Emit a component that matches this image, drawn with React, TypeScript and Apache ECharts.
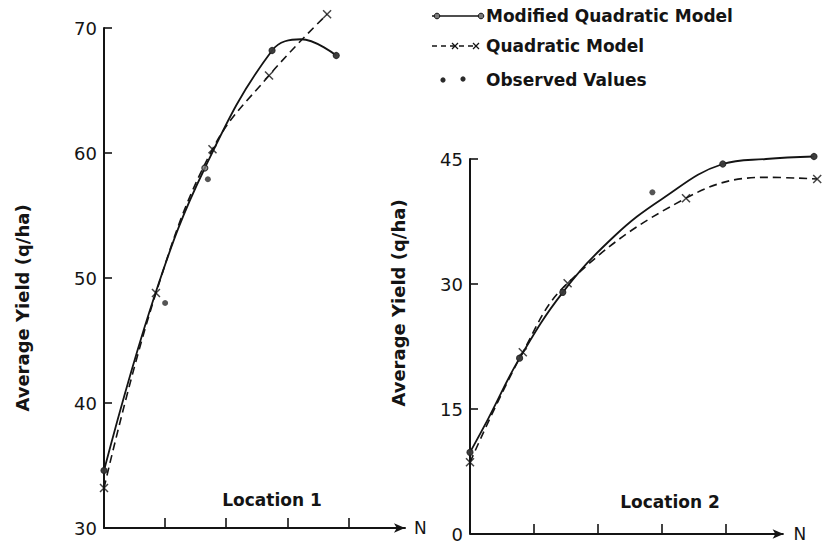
import React, { useEffect, useRef } from "react";
import * as echarts from "echarts";

// ---- data (N on x, average yield q/ha on y) ----
const xTickValues = [40, 80, 120, 160];

const leftYMin = 30;
const leftYMax = 70;
const leftYStep = 10;
const rightYMin = 0;
const rightYMax = 45;
const rightYStep = 15;

// Location 1
const leftModCurve = [[0, 34.6], [34, 48.9], [66, 58.8], [110, 68.2], [129, 69.1], [152, 67.8]];
const leftModMarks = [[0, 34.6], [66, 58.8], [110, 68.2], [152, 67.8]];
const leftQuadLine = [[0, 33.2], [34, 48.8], [71, 60.3], [108, 66.2], [146, 71.1]];
const leftQuadMarks = [[0, 33.2], [34, 48.8], [71, 60.3], [108, 66.2], [146, 71.1]];
const leftObs = [[0, 34.6], [40, 48.0], [68, 57.9], [110, 68.2], [152, 67.8]];

// Location 2
const rightModCurve = [[0, 9.8], [11, 13.7], [31, 21.1], [58, 29.0], [90, 35.7], [120, 40.2], [158, 44.4], [185, 45.0], [215, 45.3]];
const rightModMarks = [[0, 9.8], [31, 21.1], [58, 29.0], [158, 44.4], [215, 45.3]];
const rightQuadLine = [[0, 8.6], [33, 21.8], [61, 30.1], [135, 40.3], [185, 42.8], [217, 42.6]];
const rightQuadMarks = [[0, 8.6], [33, 21.8], [61, 30.1], [135, 40.3], [217, 42.6]];
const rightObs = [[0, 9.8], [31, 21.1], [58, 29.0], [114, 41.0], [158, 44.4], [215, 45.3]];
const rightAxisLine = [[0, 0], [196, 0]];

const legendNames = ["Modified Quadratic Model", "Quadratic Model", "Observed Values"];
const yTitle = "Average Yield (q/ha)";
const locationLabels = ["Location 1", "Location 2"];

const INK = "#141414";
const FONT = "DejaVu Sans";
const X_SYMBOL = "path://M0,0L10,10M10,0L0,10";

function curveSeries(data: number[][], idx: number, dashed: boolean) {
  return {
    type: "line",
    xAxisIndex: idx,
    yAxisIndex: idx,
    data,
    smooth: 0.4,
    showSymbol: false,
    symbol: "none",
    clip: false,
    silent: true,
    lineStyle: { color: INK, width: dashed ? 1.6 : 1.8, type: dashed ? [8, 5] : "solid" },
    z: 3,
  };
}
function modMarkSeries(data: number[][], idx: number) {
  return {
    type: "scatter",
    xAxisIndex: idx,
    yAxisIndex: idx,
    data,
    symbol: "circle",
    symbolSize: 6,
    clip: false,
    itemStyle: { color: "#7a7a7a", borderColor: INK, borderWidth: 1.2 },
    z: 4,
  };
}
function quadMarkSeries(data: number[][], idx: number) {
  return {
    type: "scatter",
    xAxisIndex: idx,
    yAxisIndex: idx,
    data,
    symbol: X_SYMBOL,
    symbolSize: 8,
    clip: false,
    itemStyle: { color: "rgba(0,0,0,0)", borderColor: INK, borderWidth: 1.5 },
    z: 5,
  };
}
function obsSeries(data: number[][], idx: number) {
  return {
    type: "scatter",
    xAxisIndex: idx,
    yAxisIndex: idx,
    data,
    symbol: "circle",
    symbolSize: 6,
    clip: false,
    itemStyle: { color: "#2a2a2a" },
    z: 6,
  };
}

function yAxis(idx: number, min: number, max: number, step: number) {
  return {
    type: "value",
    gridIndex: idx,
    min,
    max,
    interval: step,
    axisLine: { show: true, lineStyle: { color: INK, width: 2 } },
    axisTick: { show: true, inside: true, length: 8, lineStyle: { color: INK, width: 1.6 } },
    axisLabel: { show: true, margin: 7, color: INK, fontSize: 18, fontFamily: FONT },
    splitLine: { show: false },
  };
}

export default function App() {
  const ref = useRef<HTMLDivElement>(null);
  useEffect(() => {
    if (!ref.current) return;
    const chart = echarts.init(ref.current, null, { renderer: "svg" });
    const textBase = { fill: INK, fontFamily: FONT };
    const option: any = {
      animation: false,
      backgroundColor: "#ffffff",
      grid: [
        { left: 104, top: 28, width: 301, height: 500 },
        { left: 470, top: 159, width: 352, height: 375 },
      ],
      xAxis: [
        {
          type: "value",
          gridIndex: 0,
          min: 0,
          max: 197,
          axisLine: { show: true, symbol: ["none", "arrow"], symbolSize: [7, 11], lineStyle: { color: INK, width: 2 } },
          axisTick: { show: true, inside: true, length: 10, customValues: xTickValues, lineStyle: { color: INK, width: 1.6 } },
          axisLabel: { show: false },
          splitLine: { show: false },
          name: "N",
          nameLocation: "end",
          nameGap: 9,
          nameTextStyle: { color: INK, fontSize: 17, fontFamily: FONT, verticalAlign: "middle" },
        },
        {
          type: "value",
          gridIndex: 1,
          min: 0,
          max: 220,
          axisLine: { show: false },
          axisTick: { show: true, inside: true, length: 10, customValues: xTickValues, lineStyle: { color: INK, width: 1.6 } },
          axisLabel: { show: false },
          splitLine: { show: false },
        },
      ],
      yAxis: [yAxis(0, leftYMin, leftYMax, leftYStep), yAxis(1, rightYMin, rightYMax, rightYStep)],
      series: [
        // right x-axis line with arrow
        {
          type: "line",
          xAxisIndex: 1,
          yAxisIndex: 1,
          data: rightAxisLine.map((p, i) =>
            i === rightAxisLine.length - 1
              ? { value: p, symbol: "arrow", symbolRotate: -90, symbolSize: [7, 11] }
              : { value: p, symbol: "none" }
          ),
          showSymbol: true,
          clip: false,
          silent: true,
          lineStyle: { color: INK, width: 2 },
          itemStyle: { color: INK },
          endLabel: { show: true, formatter: "N", distance: 10, color: INK, fontSize: 17, fontFamily: FONT },
          z: 2,
        },
        curveSeries(leftModCurve, 0, false),
        curveSeries(leftQuadLine, 0, true),
        modMarkSeries(leftModMarks, 0),
        quadMarkSeries(leftQuadMarks, 0),
        obsSeries(leftObs, 0),
        curveSeries(rightModCurve, 1, false),
        curveSeries(rightQuadLine, 1, true),
        modMarkSeries(rightModMarks, 1),
        quadMarkSeries(rightQuadMarks, 1),
        obsSeries(rightObs, 1),
      ],
      graphic: [
        // legend row 1
        { type: "line", shape: { x1: 432, y1: 16, x2: 481, y2: 16 }, style: { stroke: INK, lineWidth: 1.5 } },
        { type: "circle", shape: { cx: 437, cy: 16, r: 2.8 }, style: { fill: "#7a7a7a", stroke: INK, lineWidth: 1 } },
        { type: "circle", shape: { cx: 481, cy: 16, r: 2.8 }, style: { fill: "#7a7a7a", stroke: INK, lineWidth: 1 } },
        { type: "text", x: 486, y: 16, style: { ...textBase, text: legendNames[0], fontSize: 17, fontWeight: "bold", verticalAlign: "middle" } },
        // legend row 2
        { type: "line", shape: { x1: 432, y1: 46, x2: 476, y2: 46 }, style: { stroke: INK, lineWidth: 1.3, lineDash: [5, 4] } },
        { type: "line", shape: { x1: 452, y1: 43, x2: 458, y2: 49 }, style: { stroke: INK, lineWidth: 1.3 } },
        { type: "line", shape: { x1: 458, y1: 43, x2: 452, y2: 49 }, style: { stroke: INK, lineWidth: 1.3 } },
        { type: "line", shape: { x1: 473, y1: 43, x2: 479, y2: 49 }, style: { stroke: INK, lineWidth: 1.3 } },
        { type: "line", shape: { x1: 479, y1: 43, x2: 473, y2: 49 }, style: { stroke: INK, lineWidth: 1.3 } },
        { type: "text", x: 486, y: 46, style: { ...textBase, text: legendNames[1], fontSize: 17, fontWeight: "bold", verticalAlign: "middle" } },
        // legend row 3
        { type: "circle", shape: { cx: 443, cy: 80, r: 2.6 }, style: { fill: "#2a2a2a" } },
        { type: "circle", shape: { cx: 463, cy: 79, r: 2.6 }, style: { fill: "#2a2a2a" } },
        { type: "text", x: 486, y: 80, style: { ...textBase, text: legendNames[2], fontSize: 17, fontWeight: "bold", verticalAlign: "middle" } },
        // y-axis titles
        { type: "text", x: 22, y: 308, rotation: Math.PI / 2, style: { ...textBase, text: yTitle, fontSize: 18, fontWeight: "bold", align: "center", verticalAlign: "middle" } },
        { type: "text", x: 398, y: 303, rotation: Math.PI / 2, style: { ...textBase, text: yTitle, fontSize: 18, fontWeight: "bold", align: "center", verticalAlign: "middle" } },
        // location labels
        { type: "text", x: 272, y: 500, style: { ...textBase, text: locationLabels[0], fontSize: 17, fontWeight: "bold", align: "center", verticalAlign: "middle" } },
        { type: "text", x: 670, y: 502, style: { ...textBase, text: locationLabels[1], fontSize: 17, fontWeight: "bold", align: "center", verticalAlign: "middle" } },
      ],
    };
    chart.setOption(option);
    return () => chart.dispose();
  }, []);
  return (
    <div
      ref={ref}
      style={{ position: "fixed", left: 0, top: 0, width: 822, height: 550, background: "#ffffff" }}
    />
  );
}
